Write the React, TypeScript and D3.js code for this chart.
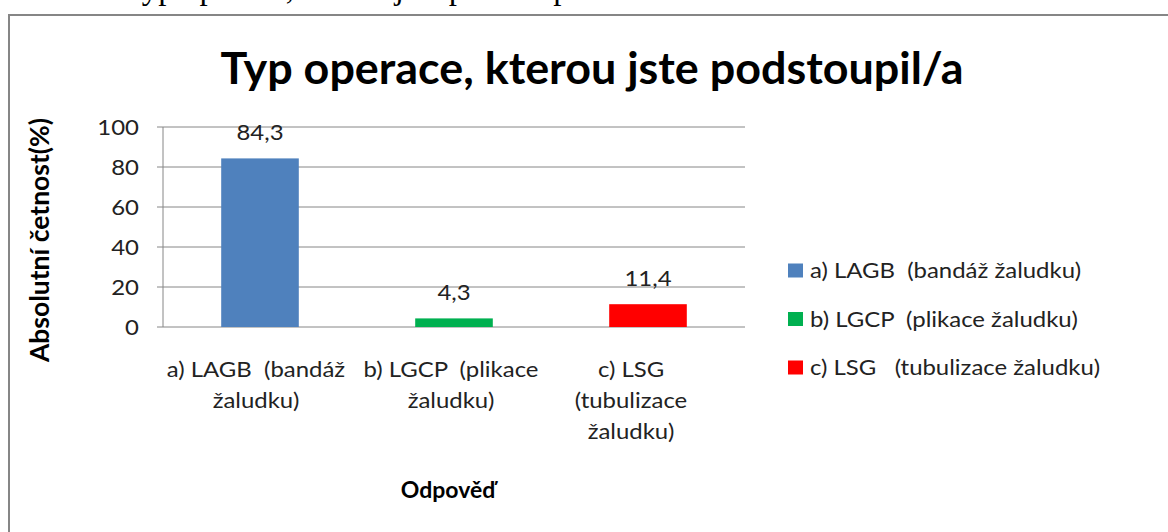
import React from "react";
import * as d3 from "d3";

const categories: string[][] = [
  ["a) LAGB  (bandáž", "žaludku)"],
  ["b) LGCP  (plikace", "žaludku)"],
  ["c) LSG", "(tubulizace", "žaludku)"],
];
const categoryKeys = ["a", "b", "c"];
const values = [84.3, 4.3, 11.4];
const valueLabels = ["84,3", "4,3", "11,4"];
const colors = ["#4F81BD", "#00B050", "#FF0000"];
const legendLabels = [
  "a) LAGB  (bandáž žaludku)",
  "b) LGCP  (plikace žaludku)",
  "c) LSG   (tubulizace žaludku)",
];
const yTicks = [0, 20, 40, 60, 80, 100];
const title = "Typ operace, kterou jste podstoupil/a";
const yTitle = "Absolutní četnost(%)";
const xTitle = "Odpověď";
const docText = "Typ operace, kterou jste podstoupil/a";

const FONT = "Lato, 'Open Sans', sans-serif";
const FS = 21;
const SX = 1.14;

function T(props: {
  x: number; y: number; text: string; size?: number; sx?: number; anchor?: string;
  bold?: boolean; fill?: string;
}) {
  const { x, y, text, size = FS, sx = SX, anchor = "start", bold = false, fill = "#222" } = props;
  return (
    <text
      transform={`translate(${x},${y}) scale(${sx},1)`}
      textAnchor={anchor}
      fontFamily={FONT}
      fontSize={size}
      fontWeight={bold ? "bold" : "normal"}
      fill={fill}
      style={{ whiteSpace: "pre" }}
      xmlSpace="preserve"
    >
      {text}
    </text>
  );
}

export default function App() {
  const W = 1168, H = 532;
  const x = d3.scaleBand<string>().domain(categoryKeys).range([163, 745]).padding(0);
  const y = d3.scaleLinear().domain([0, 100]).range([327, 127]);
  const bw = x.bandwidth() / 2.5;
  const labelOffsets = [-4, -3, -17];

  return (
    <svg width={W} height={H} style={{ position: "absolute", left: 0, top: 0, background: "#fff" }}>
      <text x={124} y={-1} fontFamily="'Liberation Serif', 'Times New Roman', serif" fontSize={33} fill="#000">
        {docText}
      </text>
      <rect x={9} y={15} width={1200} height={560} fill="#fff" stroke="#868686" strokeWidth={2} />
      <T x={592} y={84} text={title} size={44} sx={1.02} anchor="middle" bold fill="#000" />
      {yTicks.map((t) => (
        <line key={t} x1={157} x2={745} y1={y(t)} y2={y(t)} stroke="#868686" strokeWidth={1} />
      ))}
      <line x1={163} x2={163} y1={y(100)} y2={y(0)} stroke="#868686" strokeWidth={1} />
      {yTicks.map((t) => (
        <T key={"l" + t} x={139} y={y(t) + 7.5} text={String(t)} anchor="end" />
      ))}
      {values.map((v, i) => {
        const cx = (x(categoryKeys[i]) as number) + x.bandwidth() / 2;
        return (
          <g key={i}>
            <rect x={cx - bw / 2} y={y(v)} width={bw} height={y(0) - y(v)} fill={colors[i]} />
            <T x={cx} y={y(v) - 18} text={valueLabels[i]} anchor="middle" />
          </g>
        );
      })}
      {categories.map((lines, i) => {
        const cx = (x(categoryKeys[i]) as number) + x.bandwidth() / 2 + labelOffsets[i];
        return lines.map((ln, j) => (
          <T key={i + "-" + j} x={cx} y={377 + j * 31} text={ln} anchor="middle" />
        ));
      })}
      <T x={448} y={498} text={xTitle} size={23} sx={1} anchor="middle" bold fill="#000" />
      <text
        transform={`translate(49, 240) rotate(-90)`}
        textAnchor="middle"
        fontFamily={FONT}
        fontWeight="bold"
        fontSize={26.5}
        fill="#000"
      >
        {yTitle}
      </text>
      {legendLabels.map((lb, i) => (
        <g key={lb}>
          <rect x={788} y={263.5 + i * 48.5} width={15} height={14} fill={colors[i]} />
          <T x={810} y={278 + i * 48.5} text={lb} />
        </g>
      ))}
    </svg>
  );
}
